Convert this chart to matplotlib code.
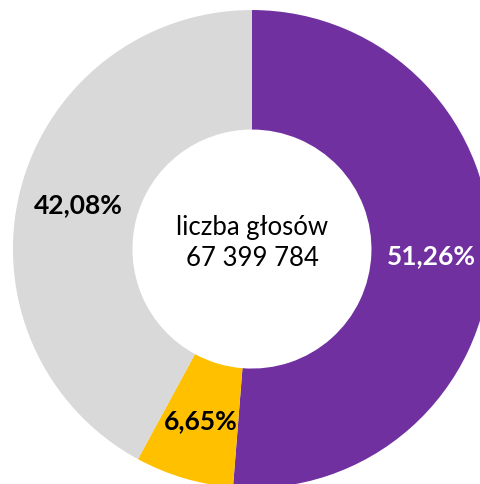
import matplotlib
matplotlib.use("Agg")
import matplotlib.pyplot as plt

# vote shares, clockwise from the top
shares = [51.26, 6.65, 42.08]
labels = ["51,26%", "6,65%", "42,08%"]
colors = ["#7030A0", "#FFC000", "#D9D9D9"]
label_colors = ["white", "black", "black"]
center_text = "liczba głosów\n67 399 784"

plt.rcParams["font.family"] = ["Lato", "DejaVu Sans"]

fig = plt.figure(figsize=(4.8, 4.84), dpi=100)
ax = fig.add_axes([0, 0, 1, 1])

wedges, texts = ax.pie(shares, colors=colors, labels=labels, startangle=90,
                       counterclock=False, labeldistance=0.75,
                       wedgeprops=dict(width=0.5, linewidth=0),
                       textprops=dict(fontsize=19, fontweight="bold",
                                      ha="center", va="center"))
for t, c in zip(texts, label_colors):
    t.set_color(c)
    t.set_horizontalalignment("center")

ax.text(0, 0.025, center_text, ha="center", va="center", fontsize=18.5,
        linespacing=1.3)

ax.set_xlim(-1.054, 0.954)
ax.set_ylim(-0.983, 1.042)
ax.set_aspect("equal")
ax.axis("off")

fig.savefig("out.png", dpi=100)
